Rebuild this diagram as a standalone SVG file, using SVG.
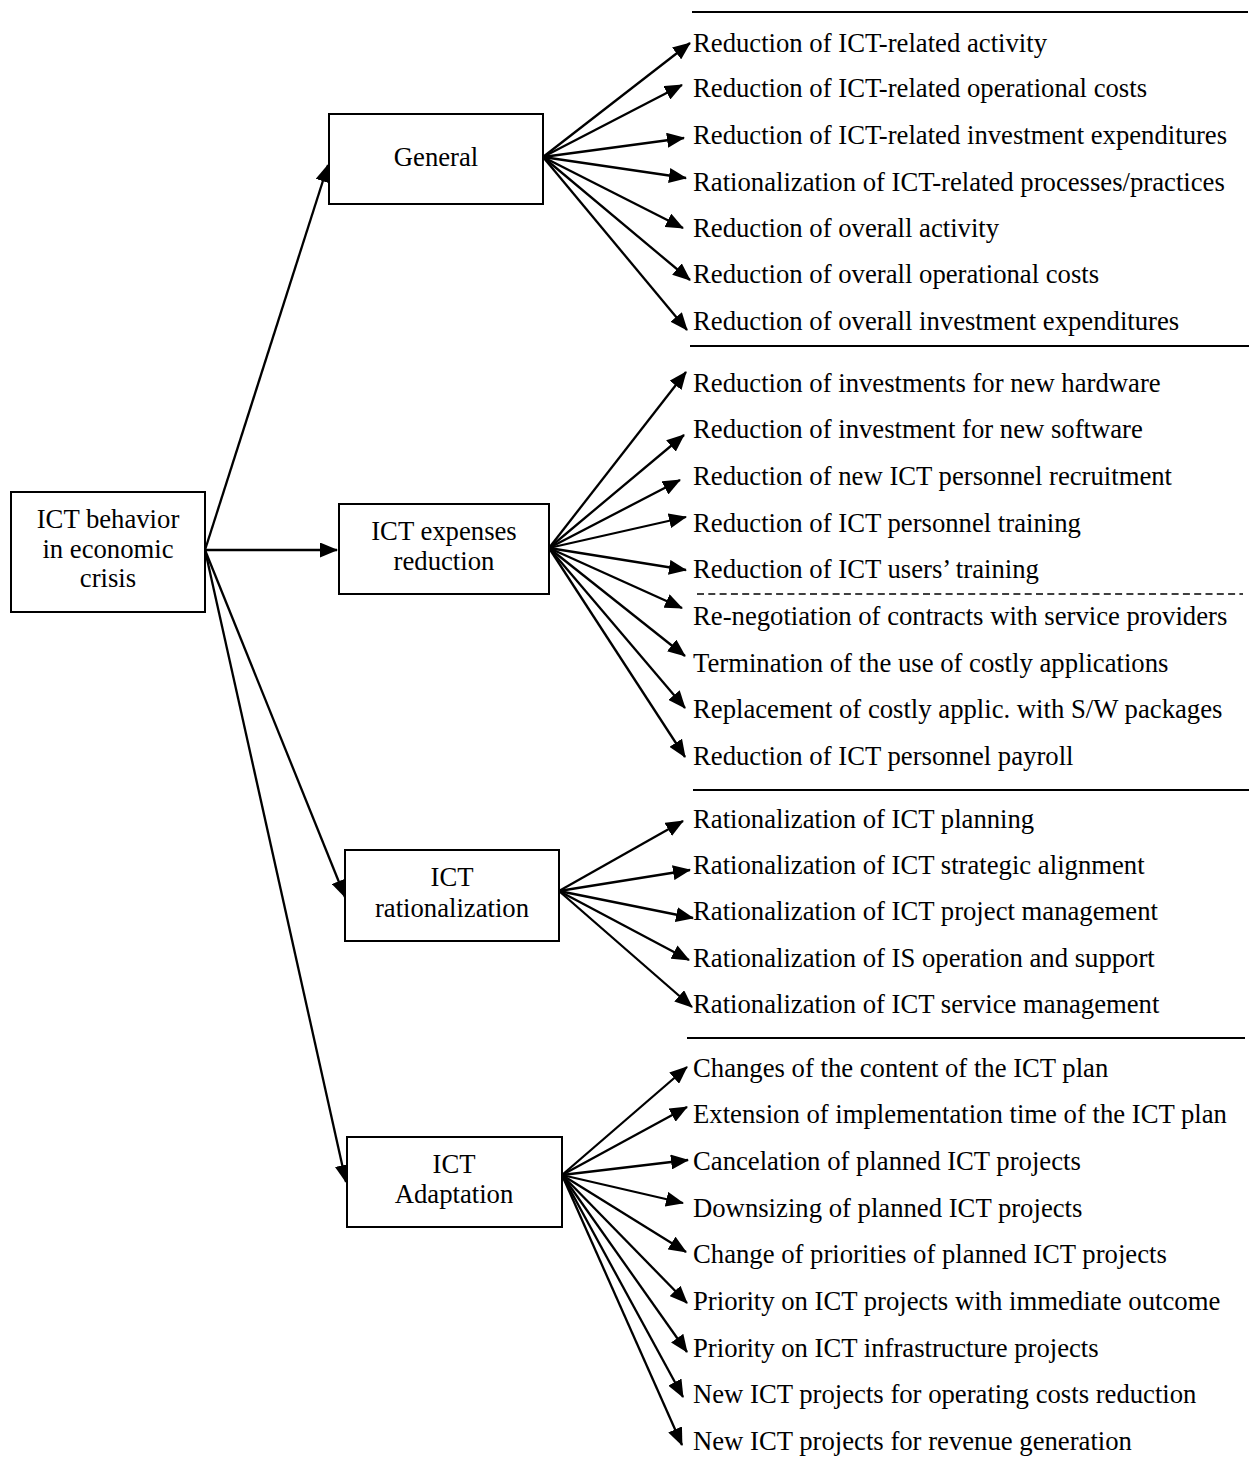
<svg xmlns="http://www.w3.org/2000/svg" width="1257" height="1470" viewBox="0 0 1257 1470">
<style>
text{font-family:"Liberation Serif","Times New Roman",serif;font-size:26.7px;fill:#000}
.c{text-anchor:middle}
.box{fill:#fff;stroke:#000;stroke-width:2}
.con line{stroke:#000;stroke-width:2.3;marker-end:url(#ah)}
.sep{stroke:#000;stroke-width:2}
.dash{stroke:#000;stroke-width:1.6;stroke-dasharray:7 4.3}
</style>
<defs>
<marker id="ah" viewBox="0 0 18 15" refX="17" refY="7.5" markerWidth="18" markerHeight="15" markerUnits="userSpaceOnUse" orient="auto">
<path d="M0,0 L18,7.5 L0,15 z" fill="#000"/>
</marker>
</defs>
<rect width="1257" height="1470" fill="#fff"/>

<g id="connectors" class="con">
<line x1="205" y1="550" x2="328" y2="165"/>
<line x1="205" y1="550" x2="337" y2="550"/>
<line x1="205" y1="550" x2="345" y2="897"/>
<line x1="205" y1="550" x2="346" y2="1182"/>

<line x1="543" y1="157" x2="690" y2="43"/>
<line x1="543" y1="157" x2="682" y2="85"/>
<line x1="543" y1="157" x2="684" y2="138"/>
<line x1="543" y1="157" x2="686" y2="178"/>
<line x1="543" y1="157" x2="683" y2="228"/>
<line x1="543" y1="157" x2="690" y2="280"/>
<line x1="543" y1="157" x2="687" y2="330"/>

<line x1="549" y1="548" x2="686" y2="372"/>
<line x1="549" y1="548" x2="684" y2="435"/>
<line x1="549" y1="548" x2="680" y2="480"/>
<line x1="549" y1="548" x2="686" y2="517"/>
<line x1="549" y1="548" x2="686" y2="570"/>
<line x1="549" y1="548" x2="682" y2="608"/>
<line x1="549" y1="548" x2="685" y2="656"/>
<line x1="549" y1="548" x2="685" y2="708"/>
<line x1="549" y1="548" x2="685" y2="757"/>

<line x1="559" y1="891" x2="683" y2="821"/>
<line x1="559" y1="891" x2="690" y2="870"/>
<line x1="559" y1="891" x2="693" y2="918"/>
<line x1="559" y1="891" x2="689" y2="960"/>
<line x1="559" y1="891" x2="692" y2="1007"/>

<line x1="562" y1="1175" x2="687" y2="1067"/>
<line x1="562" y1="1175" x2="687" y2="1107"/>
<line x1="562" y1="1175" x2="688" y2="1160"/>
<line x1="562" y1="1175" x2="683" y2="1203"/>
<line x1="562" y1="1175" x2="686" y2="1252"/>
<line x1="562" y1="1175" x2="687" y2="1303"/>
<line x1="562" y1="1175" x2="687" y2="1352"/>
<line x1="562" y1="1175" x2="683" y2="1397"/>
<line x1="562" y1="1175" x2="682" y2="1445"/>
</g>

<g id="separators">
<line class="sep" x1="692" y1="12" x2="1248" y2="12"/>
<line class="sep" x1="690" y1="346" x2="1249" y2="346"/>
<line class="dash" x1="697" y1="594" x2="1243" y2="594"/>
<line class="sep" x1="693" y1="790" x2="1249" y2="790"/>
<line class="sep" x1="687" y1="1038" x2="1245" y2="1038"/>
</g>

<g id="root">
<rect class="box" x="11" y="492" width="194" height="120"/>
<text class="c" x="108" y="528">ICT behavior</text>
<text class="c" x="108" y="558">in economic</text>
<text class="c" x="108" y="587">crisis</text>
</g>

<g id="general">
<rect class="box" x="329" y="114" width="214" height="90"/>
<text class="c" x="436" y="166">General</text>
</g>

<g id="expenses">
<rect class="box" x="339" y="504" width="210" height="90"/>
<text class="c" x="444" y="540">ICT expenses</text>
<text class="c" x="444" y="570">reduction</text>
</g>

<g id="rationalization">
<rect class="box" x="345" y="850" width="214" height="91"/>
<text class="c" x="452" y="886">ICT</text>
<text class="c" x="452" y="917">rationalization</text>
</g>

<g id="adaptation">
<rect class="box" x="347" y="1137" width="215" height="90"/>
<text class="c" x="454" y="1173">ICT</text>
<text class="c" x="454" y="1203">Adaptation</text>
</g>

<g id="general-items">
<text x="693" y="52">Reduction of ICT-related activity</text>
<text x="693" y="97">Reduction of ICT-related operational costs</text>
<text x="693" y="144">Reduction of ICT-related investment expenditures</text>
<text x="693" y="191">Rationalization of ICT-related processes/practices</text>
<text x="693" y="237">Reduction of overall activity</text>
<text x="693" y="283">Reduction of overall operational costs</text>
<text x="693" y="330">Reduction of overall investment expenditures</text>
</g>

<g id="expenses-items">
<text x="693" y="392">Reduction of investments for new hardware</text>
<text x="693" y="438">Reduction of investment for new software</text>
<text x="693" y="485">Reduction of new ICT personnel recruitment</text>
<text x="693" y="532">Reduction of ICT personnel training</text>
<text x="693" y="578">Reduction of ICT users’ training</text>
<text x="693" y="625">Re-negotiation of contracts with service providers</text>
<text x="693" y="672">Termination of the use of costly applications</text>
<text x="693" y="718">Replacement of costly applic. with S/W packages</text>
<text x="693" y="765">Reduction of ICT personnel payroll</text>
</g>

<g id="rationalization-items">
<text x="693" y="828">Rationalization of ICT planning</text>
<text x="693" y="874">Rationalization of ICT strategic alignment</text>
<text x="693" y="920">Rationalization of ICT project management</text>
<text x="693" y="967">Rationalization of IS operation and support</text>
<text x="693" y="1013">Rationalization of ICT service management</text>
</g>

<g id="adaptation-items">
<text x="693" y="1077">Changes of the content of the ICT plan</text>
<text x="693" y="1123">Extension of implementation time of the ICT plan</text>
<text x="693" y="1170">Cancelation of planned ICT projects</text>
<text x="693" y="1217">Downsizing of planned ICT projects</text>
<text x="693" y="1263">Change of priorities of planned ICT projects</text>
<text x="693" y="1310">Priority on ICT projects with immediate outcome</text>
<text x="693" y="1357">Priority on ICT infrastructure projects</text>
<text x="693" y="1403">New ICT projects for operating costs reduction</text>
<text x="693" y="1450">New ICT projects for revenue generation</text>
</g>
</svg>
